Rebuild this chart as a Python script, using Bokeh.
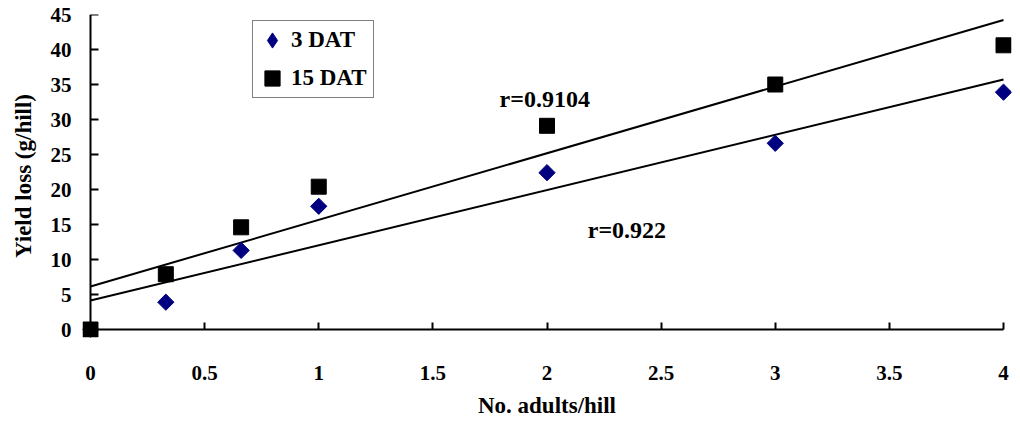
import numpy as np
from bokeh.plotting import figure
from bokeh.models import (Range1d, Legend, LegendItem, FixedTicker, LinearAxis,
                          SingleIntervalTicker, CustomJSTickFormatter, Label,
                          CDSView, IndexFilter)
from bokeh.embed import file_html
from bokeh.resources import INLINE

# ---- data ----
adults = [0, 0.33, 0.66, 1, 2, 3, 4]
loss_3dat = [0, 3.9, 11.3, 17.6, 22.4, 26.6, 33.9]
loss_15dat = [0, 7.9, 14.6, 20.4, 29.1, 35.0, 40.6]
series_names = ["3 DAT", "15 DAT"]
r_labels = ["r=0.922", "r=0.9104"]
x_ticks = [0, 0.5, 1, 1.5, 2, 2.5, 3, 3.5, 4]
y_tick_step = 5

FONT = "Liberation Serif"
NAVY = "#000080"

# small range padding so that markers at the axis ends are not clipped
XPAD = 0.035
YPAD = 8 / 7

p = figure(width=1020, height=422,
           x_range=Range1d(-XPAD, 4 + XPAD), y_range=Range1d(-YPAD, 45),
           output_backend="svg", toolbar_location=None,
           min_border_left=82, min_border_right=9, min_border_top=14,
           min_border_bottom=85)
p.grid.visible = False
p.outline_line_color = None
p.background_fill_color = "white"

# label-carrying axes (at frame edges, no line / ticks)
for ax in (p.xaxis[0], p.yaxis[0]):
    ax.axis_line_color = None
    ax.major_tick_line_color = None
    ax.minor_tick_line_color = None
    ax.major_tick_in = 0
    ax.major_tick_out = 0
    ax.major_label_text_font = FONT
    ax.major_label_text_font_style = "bold"
    ax.major_label_text_font_size = "21px"
    ax.major_label_text_color = "black"
    ax.axis_label_text_font = FONT
    ax.axis_label_text_font_style = "bold"
    ax.axis_label_text_font_size = "23px"
    ax.axis_label_text_color = "black"

p.xaxis.ticker = FixedTicker(ticks=x_ticks)
p.xaxis.formatter = CustomJSTickFormatter(code="return tick.toString()")
p.xaxis.major_label_standoff = 28
p.xaxis.axis_label = "No. adults/hill"
p.xaxis.axis_label_standoff = 10

p.yaxis.ticker = SingleIntervalTicker(interval=y_tick_step)
p.yaxis.major_label_standoff = 7
p.yaxis.axis_label = "Yield loss (g/hill)"
p.yaxis.axis_label_standoff = 12

# axis rules with inward ticks, crossing at the origin
blank = CustomJSTickFormatter(code="return ''")
x_rule = LinearAxis(fixed_location=0, bounds=(0, 4), ticker=FixedTicker(ticks=x_ticks),
                    formatter=blank, major_tick_in=7, major_tick_out=0,
                    major_label_standoff=0, minor_tick_line_color=None,
                    axis_line_width=2, axis_line_color="black",
                    major_tick_line_width=2, major_tick_line_color="black")
y_rule = LinearAxis(fixed_location=0, bounds=(0, 45),
                    ticker=SingleIntervalTicker(interval=y_tick_step),
                    formatter=blank, major_tick_in=8, major_tick_out=0,
                    major_label_standoff=0, minor_tick_line_color=None,
                    axis_line_width=2, axis_line_color="black",
                    major_tick_line_width=2, major_tick_line_color="black")
p.add_layout(x_rule, "below")
p.add_layout(y_rule, "left")

# trend lines (least squares fits of the data)
xs_fit = [min(adults), max(adults)]
for ys in (loss_3dat, loss_15dat):
    m, b = np.polyfit(adults, ys, 1)
    p.line(xs_fit, [m * xx + b for xx in xs_fit], line_color="black", line_width=2)

# legend swatch for the diamond series: shows only its first point, which lies
# underneath the series' own marker at the origin
r3_key = p.scatter(adults, loss_3dat, marker="diamond", size=15,
                   fill_color=NAVY, line_color=NAVY,
                   view=CDSView(filter=IndexFilter(indices=[0])))
r3 = p.scatter(adults, loss_3dat, marker="square", angle=np.pi / 4, size=11.5,
               fill_color=NAVY, line_color=NAVY)
r15 = p.scatter(adults, loss_15dat, marker="square", size=15,
                fill_color="black", line_color="black")

legend = Legend(items=[LegendItem(label=series_names[0], renderers=[r3_key]),
                       LegendItem(label=series_names[1], renderers=[r15])],
                location=(170, 239), orientation="vertical",
                glyph_width=38, glyph_height=38, padding=0, spacing=0, margin=0,
                label_standoff=0, label_width=82,
                label_text_font=FONT, label_text_font_style="bold",
                label_text_font_size="23px", label_text_color="black",
                border_line_color="black", border_line_width=1.5,
                background_fill_color="white", background_fill_alpha=1)
p.add_layout(legend, "center")

p.add_layout(Label(x=1.99, y=33.0, text=r_labels[1], text_align="center",
                   text_baseline="middle", text_font=FONT, text_font_style="bold",
                   text_font_size="24px", text_color="black"))
p.add_layout(Label(x=2.35, y=14.2, text=r_labels[0], text_align="center",
                   text_baseline="middle", text_font=FONT, text_font_style="bold",
                   text_font_size="24px", text_color="black"))

open("out.html", "w").write(file_html(p, INLINE))
